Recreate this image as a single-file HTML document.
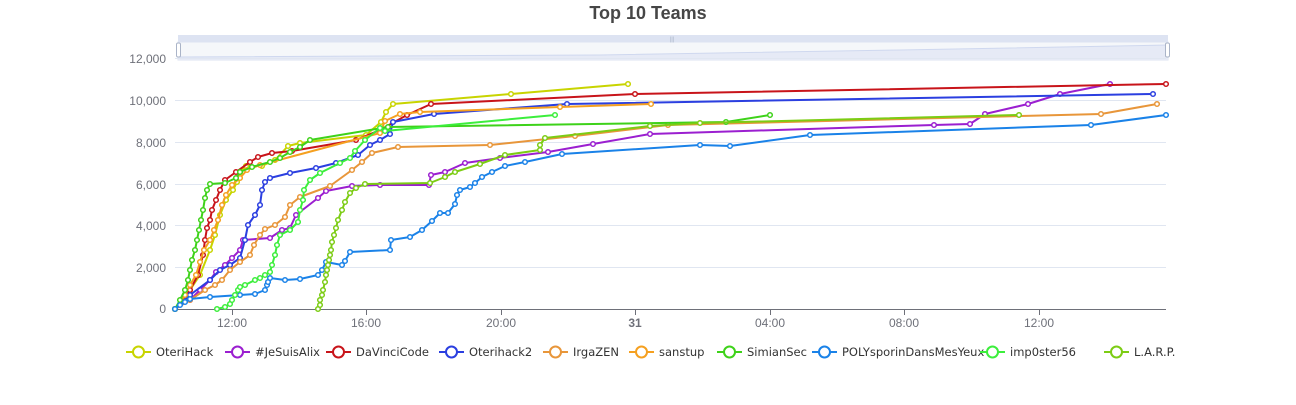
<!DOCTYPE html>
<html><head><meta charset="utf-8"><style>
body{margin:0;background:#fff;width:1296px;height:400px;overflow:hidden;font-family:"Liberation Sans",sans-serif}
</style></head><body>
<svg width="1296" height="400" xmlns="http://www.w3.org/2000/svg" font-family="Liberation Sans, sans-serif">
<text x="648" y="19" text-anchor="middle" font-size="18" font-weight="bold" fill="#464646">Top 10 Teams</text>
<rect x="178" y="35" width="990" height="7" fill="#dde3f2"/>
<rect x="178" y="42" width="990" height="18" fill="#f5f7fa" stroke="#dde3f2"/>
<path d="M178,60 L178,57 L600,55 L900,50 L1168,45 L1168,60 Z" fill="#e6eaf6"/>
<path d="M178,57 L600,55 L900,50 L1168,45" fill="none" stroke="#cfd8ef"/>
<rect x="176.5" y="43" width="4" height="14" rx="1.5" fill="#fff" stroke="#aab4c8"/>
<rect x="1165.5" y="43" width="4" height="14" rx="1.5" fill="#fff" stroke="#aab4c8"/>
<text x="672" y="41" font-size="6" fill="#aab4c8" text-anchor="middle">|||</text>
<g stroke="#e0e6f1" stroke-width="1">
<line x1="175" x2="1166" y1="58.5" y2="58.5"/><line x1="175" x2="1166" y1="100.5" y2="100.5"/>
<line x1="175" x2="1166" y1="142.5" y2="142.5"/><line x1="175" x2="1166" y1="184.5" y2="184.5"/>
<line x1="175" x2="1166" y1="225.5" y2="225.5"/><line x1="175" x2="1166" y1="267.5" y2="267.5"/>
</g>
<line x1="175" x2="1166" y1="309.5" y2="309.5" stroke="#6e7079"/>
<g stroke="#6e7079"><line x1="232.5" x2="232.5" y1="310" y2="315"/><line x1="366.5" x2="366.5" y1="310" y2="315"/><line x1="501.5" x2="501.5" y1="310" y2="315"/><line x1="635.5" x2="635.5" y1="310" y2="315"/><line x1="770.5" x2="770.5" y1="310" y2="315"/><line x1="904.5" x2="904.5" y1="310" y2="315"/><line x1="1039.5" x2="1039.5" y1="310" y2="315"/></g>
<g font-size="12" fill="#6e7079" text-anchor="end">
<text x="166" y="63">12,000</text><text x="166" y="105">10,000</text><text x="166" y="147">8,000</text><text x="166" y="189">6,000</text><text x="166" y="230">4,000</text><text x="166" y="272">2,000</text><text x="166" y="313">0</text>
</g>
<g font-size="12" fill="#6e7079" text-anchor="middle">
<text x="232" y="327">12:00</text><text x="366" y="327">16:00</text><text x="501" y="327">20:00</text><text x="635" y="327" font-weight="bold">31</text><text x="770" y="327">04:00</text><text x="904" y="327">08:00</text><text x="1039" y="327">12:00</text>
</g>
<g id="series"></g>
<g id="legend" font-size="11.5" fill="#333" font-family="DejaVu Sans, sans-serif"></g>
</svg>
<script>
var S=[
["OteriHack","#c8d400",[175,309,190,290,200,275,210,250,215,235,220,215,226,200,233,190,237,182,240,172,246,166,262,166,275,160,288,146,300,143,366,135,381,122,386,112,393,104,511,94,628,84]],
["#JeSuisAlix","#9b1fd0",[175,309,190,300,200,290,210,280,216,272,225,265,232,258,240,250,243,240,270,238,282,230,290,228,296,215,318,198,326,191,352,186,380,185,429,185,431,175,445,172,465,163,500,158,548,152,593,144,650,134,934,125,970,124,985,114,1028,104,1060,94,1110,84]],
["DaVinciCode","#c8141a",[175,309,190,290,198,275,203,255,205,240,207,228,210,220,212,210,216,200,220,190,225,180,236,172,250,162,258,157,272,153,292,151,356,140,380,130,407,115,431,104,635,94,1166,84]],
["Oterihack2","#2b3fe0",[175,309,190,295,210,280,220,270,230,265,240,258,245,240,248,225,255,215,260,205,262,190,265,182,270,178,290,173,316,168,336,163,358,155,370,145,380,140,390,134,393,122,434,114,567,104,1153,94]],
["IrgaZEN","#e8963a",[175,309,190,300,205,290,215,285,222,280,230,270,240,262,250,255,254,245,260,235,265,229,275,225,285,217,290,205,300,197,330,186,352,170,362,162,372,153,398,147,490,145,575,136,668,125,1101,114,1157,104]],
["sanstup","#f5a020",[175,309,185,295,190,285,196,275,200,262,204,250,210,240,214,230,218,220,222,205,226,195,232,185,240,178,247,170,260,165,380,133,385,121,400,114,420,112,560,107,651,104]],
["SimianSec","#3ed21a",[175,309,180,300,185,290,188,280,190,270,192,260,195,250,197,240,199,230,201,220,203,210,205,198,207,190,210,184,225,183,236,178,240,172,252,167,270,162,280,158,290,152,300,147,310,140,388,127,726,122,770,115]],
["POLYsporinDansMesYeux","#1a82e8",[175,309,180,305,185,302,190,299,210,297,240,295,255,294,265,290,267,285,268,282,270,278,285,280,300,279,318,275,322,270,326,262,342,265,345,261,350,252,390,250,391,240,410,237,422,230,432,221,440,213,448,213,455,204,457,195,460,190,470,187,475,183,482,177,492,172,505,166,525,162,562,154,700,145,730,146,810,135,1091,125,1166,115]],
["imp0ster56","#3cee3c",[217,309,225,307,230,304,232,300,235,295,238,290,240,287,245,285,255,280,260,278,265,275,270,272,272,265,275,255,277,245,280,235,290,230,298,222,300,210,303,200,304,190,310,180,320,173,340,163,350,158,355,151,365,140,380,128,385,131,555,115]],
["L.A.R.P.","#7ccc14",[318,309,320,305,320,300,322,295,323,290,325,282,326,275,327,270,328,265,329,260,330,255,331,250,332,242,334,235,336,228,338,220,342,210,345,202,350,193,356,188,365,184,430,183,445,177,455,172,480,164,505,155,540,150,540,145,545,138,650,126,700,123,1019,115]]
];
var g=document.getElementById("series"),h="";
S.forEach(function(s){var p=s[2],pts=[];for(var i=0;i<p.length;i+=2)pts.push(p[i]+","+p[i+1]);
h+='<polyline points="'+pts.join(" ")+'" fill="none" stroke="'+s[1]+'" stroke-width="2" stroke-linejoin="round"/>';
for(var i=0;i<p.length;i+=2)h+='<circle cx="'+p[i]+'" cy="'+p[i+1]+'" r="2.3" fill="#fff" stroke="'+s[1]+'" stroke-width="1.5"/>';});
g.innerHTML=h;
var lx=[156,255,356,469,573,659,747,842,1010,1134],L="";
S.forEach(function(s,i){var x=lx[i]-30,y=352;
L+='<line x1="'+x+'" x2="'+(x+25)+'" y1="'+y+'" y2="'+y+'" stroke="'+s[1]+'" stroke-width="2"/><circle cx="'+(x+12.5)+'" cy="'+y+'" r="5.5" fill="#fff" stroke="'+s[1]+'" stroke-width="2"/><text x="'+(x+30)+'" y="'+(y+4)+'">'+s[0]+'</text>';});
document.getElementById("legend").innerHTML=L;
</script>
</body></html>
